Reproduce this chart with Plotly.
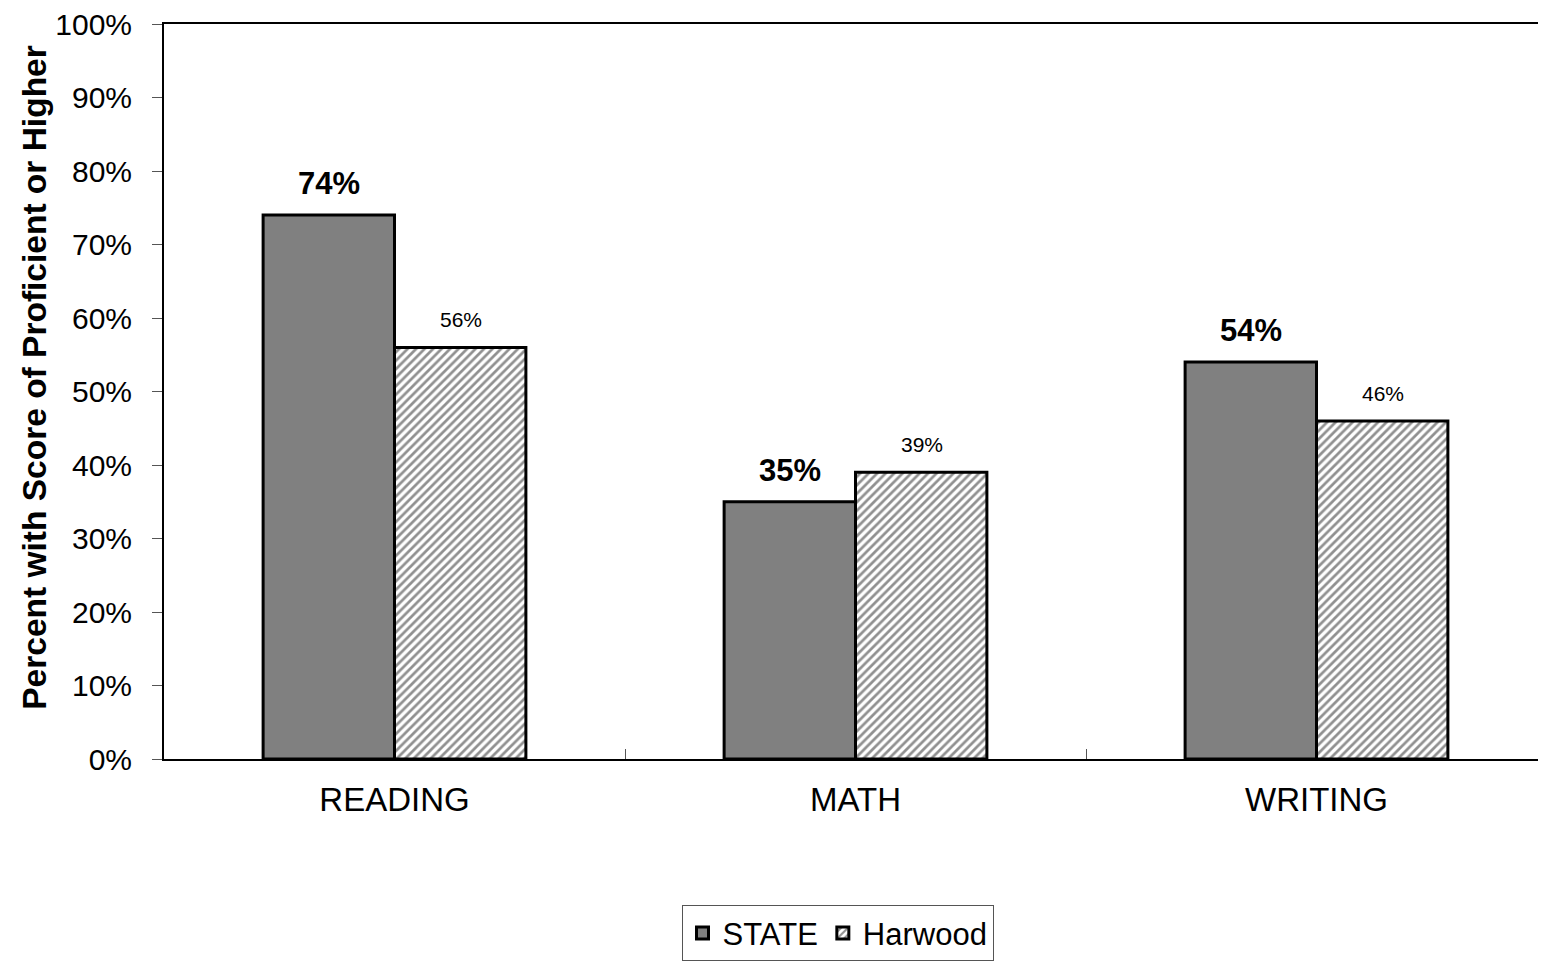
import plotly.graph_objects as go

subjects = ["READING", "MATH", "WRITING"]
state_vals = [74, 35, 54]
harwood_vals = [56, 39, 46]
y_ticks = [0, 10, 20, 30, 40, 50, 60, 70, 80, 90, 100]
y_tick_labels = [f"{v}%" for v in y_ticks]

FONT = "Liberation Sans, Arial, sans-serif"

fig = go.Figure()
fig.add_trace(go.Bar(
    name="STATE", x=subjects, y=state_vals,
    marker=dict(color="#808080", line=dict(color="black", width=3)),
))
fig.add_trace(go.Bar(
    name="Harwood", x=subjects, y=harwood_vals,
    marker=dict(
        color="white",
        line=dict(color="black", width=3),
        pattern=dict(shape="/", fgcolor="#222222", bgcolor="white", size=6, solidity=0.45),
    ),
))

# data labels: bold for state, plain for Harwood
for subj, v in zip(subjects, state_vals):
    fig.add_annotation(x=subj, y=v, xshift=-66, yshift=12, yanchor="bottom",
                       text=f"<b>{v}%</b>", showarrow=False,
                       font=dict(size=31, color="black", family=FONT))
for subj, v in zip(subjects, harwood_vals):
    fig.add_annotation(x=subj, y=v, xshift=66, yshift=14, yanchor="bottom",
                       text=f"{v}%", showarrow=False,
                       font=dict(size=21, color="black", family=FONT))

# y-axis title as a rotated annotation (sits a little above the plot centre)
fig.add_annotation(
    xref="paper", yref="paper", x=-0.0933, y=0.52,
    xanchor="center", yanchor="middle", textangle=-90, showarrow=False,
    text="<b>Percent with Score of Proficient or Higher</b>",
    font=dict(size=33.5, family=FONT, color="black"),
)

# page body has an 8px margin, so the figure is shifted; compensate in margins
fig.update_layout(
    width=1546, height=962,
    barmode="group", bargap=0.43, bargroupgap=0,
    paper_bgcolor="white", plot_bgcolor="white",
    font=dict(family=FONT, color="black"),
    margin=dict(l=156, r=7, t=16, b=211, autoexpand=False),
    showlegend=True,
    legend=dict(
        orientation="h", x=0.487, xanchor="center", y=-0.199, yanchor="top",
        font=dict(size=31, family=FONT),
        bordercolor="#555555", borderwidth=1,
        itemwidth=30,
    ),
)
fig.update_xaxes(
    showline=True, linecolor="black", linewidth=2, mirror=True,
    ticks="inside", tickson="boundaries", ticklen=10, tickcolor="#555555",
    tickfont=dict(size=33, family=FONT), showgrid=False,
    ticklabelstandoff=10, automargin=False,
)
fig.update_yaxes(
    range=[0, 100], tickvals=y_ticks, ticktext=y_tick_labels,
    showline=True, linecolor="black", linewidth=2,
    ticks="outside", ticklen=10, tickcolor="#555555",
    tickfont=dict(size=30, family=FONT), showgrid=False,
    ticklabelstandoff=14, ticklabeloverflow="allow", automargin=False,
)

fig.write_html("out.html")
